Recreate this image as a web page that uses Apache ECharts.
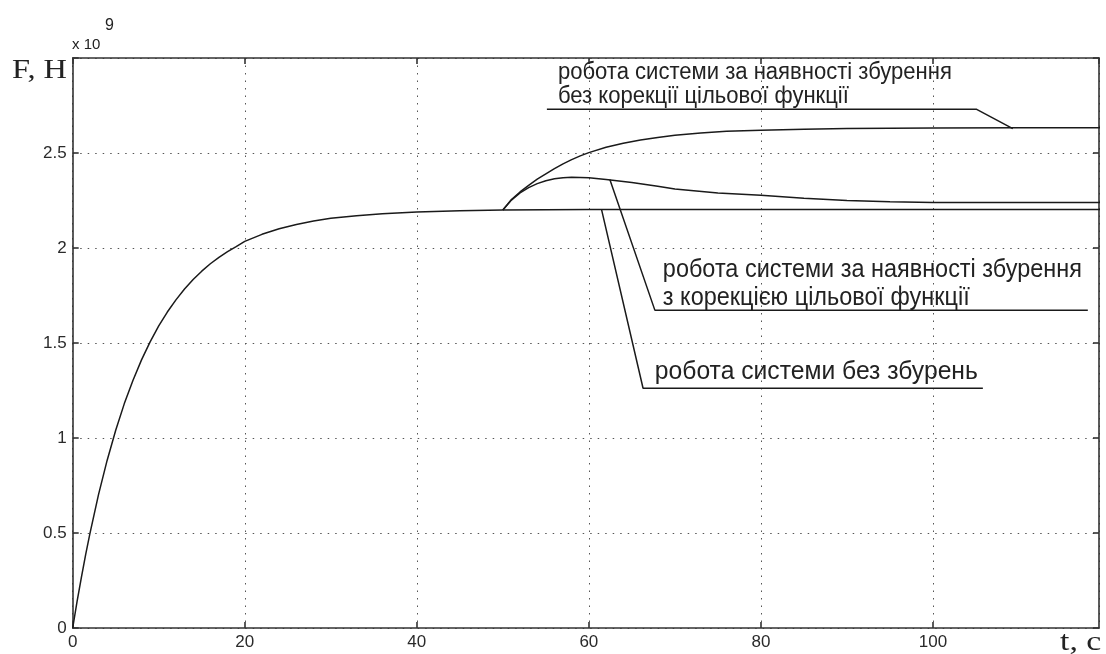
<!DOCTYPE html>
<html><head><meta charset="utf-8">
<script src="https://cdn.jsdelivr.net/npm/echarts@6/dist/echarts.min.js"></script>
<style>html,body{margin:0;padding:0;background:#fff}#c{width:1106px;height:654px}</style>
</head><body><div id="c"></div>
<script>
// ---- data (F in units of 1e9 N) ----
const tBase = [0,0.5,1,1.5,2,3,4,5,6,7,8,9,10,11,12,13,14,15,16,17,18,19,20,22,24,26,28,30,33,36,40,45,50,60,80,100,120];
const fBase = [0,0.137,0.264,0.385,0.497,0.702,0.882,1.041,1.181,1.303,1.411,1.506,1.590,1.663,1.727,1.784,1.834,1.878,1.917,1.951,1.981,2.007,2.035,2.072,2.101,2.124,2.142,2.156,2.170,2.180,2.189,2.196,2.2,2.202,2.203,2.203,2.203];
const tUncorr = [50,51,52,53,54,55,56,57,58,59,60,62,64,66,68,70,73,76,80,85,90,100,110,120];
const fUncorr = [2.2,2.255,2.295,2.33,2.362,2.39,2.418,2.443,2.465,2.485,2.502,2.53,2.551,2.568,2.582,2.593,2.605,2.614,2.62,2.625,2.629,2.632,2.633,2.633];
const tCorr = [50,51,52,53,54,55,56,57,58,60,62,65,68,70,75,80,85,90,95,100,110,120];
const fCorr = [2.2,2.252,2.29,2.318,2.339,2.354,2.364,2.37,2.372,2.37,2.36,2.345,2.325,2.31,2.29,2.277,2.262,2.25,2.243,2.24,2.24,2.24];
const xTickValues = [0,20,40,60,80,100];
const yTickValues = [0,0.5,1,1.5,2,2.5];
const labelUncorr = ['робота системи за наявності збурення','без корекції цільової функції'];
const labelCorr = ['робота системи за наявності збурення','з корекцією цільової функції'];
const labelBase = ['робота системи без збурень'];
const yTitle = 'F, H';
const xTitle = 't, c';

// ---- layout / styles ----
const X_MAX = 119.3, Y_MAX = 3;
const pairs = (ts, fs) => ts.map((t, i) => [t, fs[i]]);
const curveStyle = {color: '#1a1a1a', width: 1.5};
const annotations = [
  {lines: labelUncorr, leader: [[109.28,2.628],[105.08,2.73],[55.12,2.73]], anchor: [56.4, 2.925], gap: 24, size: 23, width: 394},
  {lines: labelCorr, leader: [[62.44,2.36],[67.67,1.673],[118.0,1.673]], anchor: [68.6, 1.884], gap: 28, size: 26, width: 419},
  {lines: labelBase, leader: [[61.47,2.203],[66.3,1.262],[105.8,1.262]], anchor: [67.67, 1.348], gap: 28, size: 26, width: 323}
];
const gridLine = {show: true, lineStyle: {color: '#555', width: 1, type: [1.5, 6]}};
const axisLineStyle = {show: true, onZero: false, lineStyle: {color: '#333', width: 1.6}};
const tickStyle = {show: true, inside: true, length: 6, lineStyle: {color: '#333', width: 1.6}};
const labelFont = {color: '#2a2a2a', fontSize: 17, fontFamily: 'Liberation Sans, Arial, sans-serif'};

const chart = echarts.init(document.getElementById('c'), null, {renderer: 'canvas'});
const xFmt = v => xTickValues.includes(v) ? String(v) : '';
const yFmt = v => yTickValues.includes(v) ? String(v) : '';

const series = [
  {type: 'line', data: pairs(tBase, fBase), showSymbol: false, lineStyle: curveStyle, z: 5, silent: true},
  {type: 'line', data: pairs(tUncorr, fUncorr), showSymbol: false, lineStyle: curveStyle, z: 5, silent: true},
  {type: 'line', data: pairs(tCorr, fCorr), showSymbol: false, lineStyle: curveStyle, z: 5, silent: true}
];
annotations.forEach(a => series.push({type: 'line', data: a.leader, showSymbol: false, silent: true, z: 6,
  lineStyle: {color: '#1a1a1a', width: 1.5}}));

chart.setOption({
  animation: false,
  backgroundColor: '#fff',
  grid: {left: 72.7, right: 7, top: 58, bottom: 26, containLabel: false},
  xAxis: [
    {type: 'value', min: 0, max: X_MAX, interval: 20, axisLine: axisLineStyle, axisTick: tickStyle,
     splitLine: gridLine, axisLabel: Object.assign({formatter: xFmt, margin: 6, showMaxLabel: false}, labelFont)},
    {type: 'value', position: 'top', min: 0, max: X_MAX, interval: 20, axisLine: axisLineStyle, axisTick: tickStyle,
     splitLine: {show: false}, axisLabel: {show: false}}
  ],
  yAxis: [
    {type: 'value', min: 0, max: Y_MAX, interval: 0.5, axisLine: axisLineStyle, axisTick: tickStyle,
     splitLine: gridLine, axisLabel: Object.assign({formatter: yFmt, margin: 6}, labelFont)},
    {type: 'value', position: 'right', min: 0, max: Y_MAX, interval: 0.5, axisLine: axisLineStyle, axisTick: tickStyle,
     splitLine: {show: false}, axisLabel: {show: false}}
  ],
  series: series
});

// text annotations, placed through the chart's scales
const ctx = document.createElement('canvas').getContext('2d');
const fam = 'Liberation Sans, Arial, sans-serif';
const serif = 'Liberation Serif, Times New Roman, serif';
const graphics = [
  {type: 'text', x: 12, y: 71, scaleX: 1.2, style: {text: yTitle, fontSize: 27, fontFamily: serif, fill: '#222', textVerticalAlign: 'middle'}},
  {type: 'text', x: 72, y: 45, style: {text: 'x 10', fontSize: 15, fontFamily: fam, fill: '#222', textVerticalAlign: 'middle'}},
  {type: 'text', x: 105, y: 26, style: {text: '9', fontSize: 16, fontFamily: fam, fill: '#222', textVerticalAlign: 'middle'}},
  {type: 'text', x: 1060, y: 643, scaleX: 1.25, style: {text: xTitle, fontSize: 27, fontFamily: serif, fill: '#222', textVerticalAlign: 'middle'}}
];
annotations.forEach(a => {
  const p = chart.convertToPixel({gridIndex: 0}, a.anchor);
  ctx.font = a.size + 'px ' + fam;
  const sx = a.width / ctx.measureText(a.lines[0]).width;
  a.lines.forEach((line, i) => {
    graphics.push({type: 'text', x: p[0], y: p[1] + i * a.gap, scaleX: sx, scaleY: 1,
      style: {text: line, fontSize: a.size, fontFamily: fam, fill: '#222', textVerticalAlign: 'middle'}, z: 10});
  });
});
chart.setOption({graphic: graphics});
</script>
</body></html>
